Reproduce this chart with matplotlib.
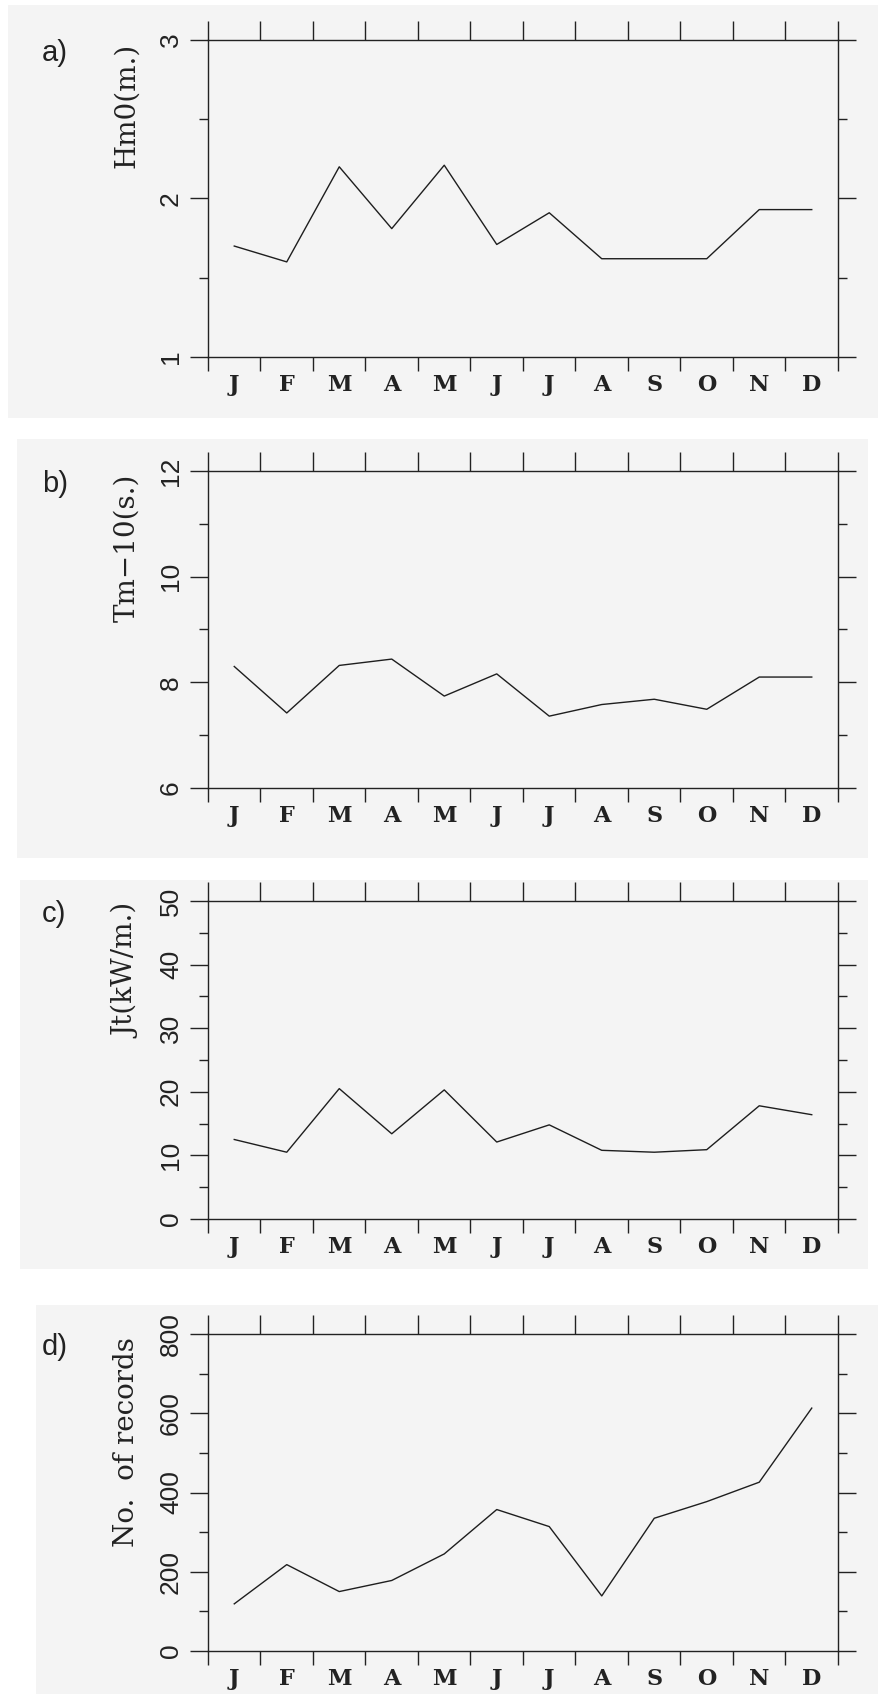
import matplotlib
matplotlib.use("Agg")
import matplotlib.pyplot as plt
from matplotlib.patches import Rectangle
from matplotlib.ticker import MultipleLocator


MONTHS = ["J", "F", "M", "A", "M", "J", "J", "A", "S", "O", "N", "D"]

HM0 = [1.70, 1.60, 2.20, 1.81, 2.21, 1.71, 1.91, 1.62, 1.62, 1.62, 1.93, 1.93]
TM10 = [8.30, 7.42, 8.32, 8.44, 7.74, 8.16, 7.36, 7.58, 7.68, 7.49, 8.10, 8.10]
JT = [12.5, 10.5, 20.5, 13.4, 20.3, 12.1, 14.8, 10.8, 10.5, 10.9, 17.8, 16.4]
RECORDS = [119, 218, 150, 178, 245, 357, 314, 139, 335, 377, 426, 613]

PANEL_LETTERS = ["a)", "b)", "c)", "d)"]
Y_LABELS = ["Hm0(m.)", "Tm\u221210(s.)", "Jt(kW/m.)", "No.  of records"]
Y_LIMITS = [(1, 3), (6, 12), (0, 50), (0, 800)]
Y_MAJOR = [1, 2, 10, 200]

W, H = 879, 1694
# axes boxes in pixels: (left, top, right, bottom)
AXES_PX = [(208, 40, 838, 357), (208, 471, 838, 788), (208, 901, 838, 1219), (208, 1334, 838, 1651)]
# scanned page background boxes in pixels: (left, top, right, bottom)
PAGE_PX = [(8, 5, 879, 418), (17, 439, 868, 858), (20, 880, 868, 1269), (36, 1305, 879, 1694)]

SERIES = [HM0, TM10, JT, RECORDS]


def draw_panel(fig, box, values, ylim, major, ylabel, letter):
    left, top, right, bottom = box
    ax = fig.add_axes([left / W, 1 - bottom / H, (right - left) / W, (bottom - top) / H])
    ax.set_facecolor("none")
    ax.set_zorder(2)

    centers = [i + 0.5 for i in range(len(MONTHS))]
    ax.plot(centers, values, color="#1e1e1e", lw=1.0)

    ax.set_xlim(0, 12)
    ax.set_ylim(*ylim)
    for side in ax.spines.values():
        side.set_linewidth(1.0)
        side.set_color("#222222")

    # month boundaries as ticks, month letters centred between them
    ax.set_xticks(range(13))
    ax.set_xticks(centers, minor=True)
    ax.set_xticklabels([], minor=False)
    ax.set_xticklabels(MONTHS, minor=True, family="DejaVu Serif", fontweight="bold", fontsize=16, color="#222222")
    ax.tick_params(axis="x", which="major", direction="out", length=10, width=1.0, color="#222222")
    ax.tick_params(axis="x", which="minor", length=0, pad=12)

    top_ax = ax.secondary_xaxis("top")
    top_ax.set_xticks(range(13))
    top_ax.set_xticklabels([])
    top_ax.tick_params(direction="out", length=14, width=1.0, color="#222222")
    top_ax.spines["top"].set_visible(False)

    ax.yaxis.set_major_locator(MultipleLocator(major))
    ax.yaxis.set_minor_locator(MultipleLocator(major / 2))
    ax.tick_params(axis="y", which="major", direction="out", left=True, right=True,
                   length=13, width=1.0, pad=5, color="#222222", labelsize=19, labelrotation=90)
    ax.tick_params(axis="y", which="minor", direction="out", left=True, right=True,
                   length=6.5, width=1.0, color="#222222")
    for lbl in ax.get_yticklabels():
        lbl.set_family("Liberation Sans")
        lbl.set_va("center")
        lbl.set_color("#222222")

    fig.text(127 / W, 1 - (top + 3) / H, ylabel, rotation=90, ha="center", va="top",
             family="DejaVu Serif", fontsize=20, color="#222222", zorder=3)
    fig.text(42 / W, 1 - (top + 13) / H, letter, ha="left", va="center",
             family="Liberation Sans", fontsize=21, color="#222222", zorder=3)
    return ax


def main():
    fig = plt.figure(figsize=(W / 100, H / 100), dpi=100)
    fig.patch.set_facecolor("white")

    for l, t, r, b in PAGE_PX:
        fig.patches.append(Rectangle((l / W, 1 - b / H), (r - l) / W, (b - t) / H,
                                     transform=fig.transFigure, facecolor="#f4f4f4",
                                     edgecolor="none", zorder=-10))

    for box, values, ylim, major, ylabel, letter in zip(AXES_PX, SERIES, Y_LIMITS, Y_MAJOR, Y_LABELS, PANEL_LETTERS):
        draw_panel(fig, box, values, ylim, major, ylabel, letter)

    fig.savefig("out.png", dpi=100)
    plt.close(fig)


if __name__ == "__main__":
    main()
